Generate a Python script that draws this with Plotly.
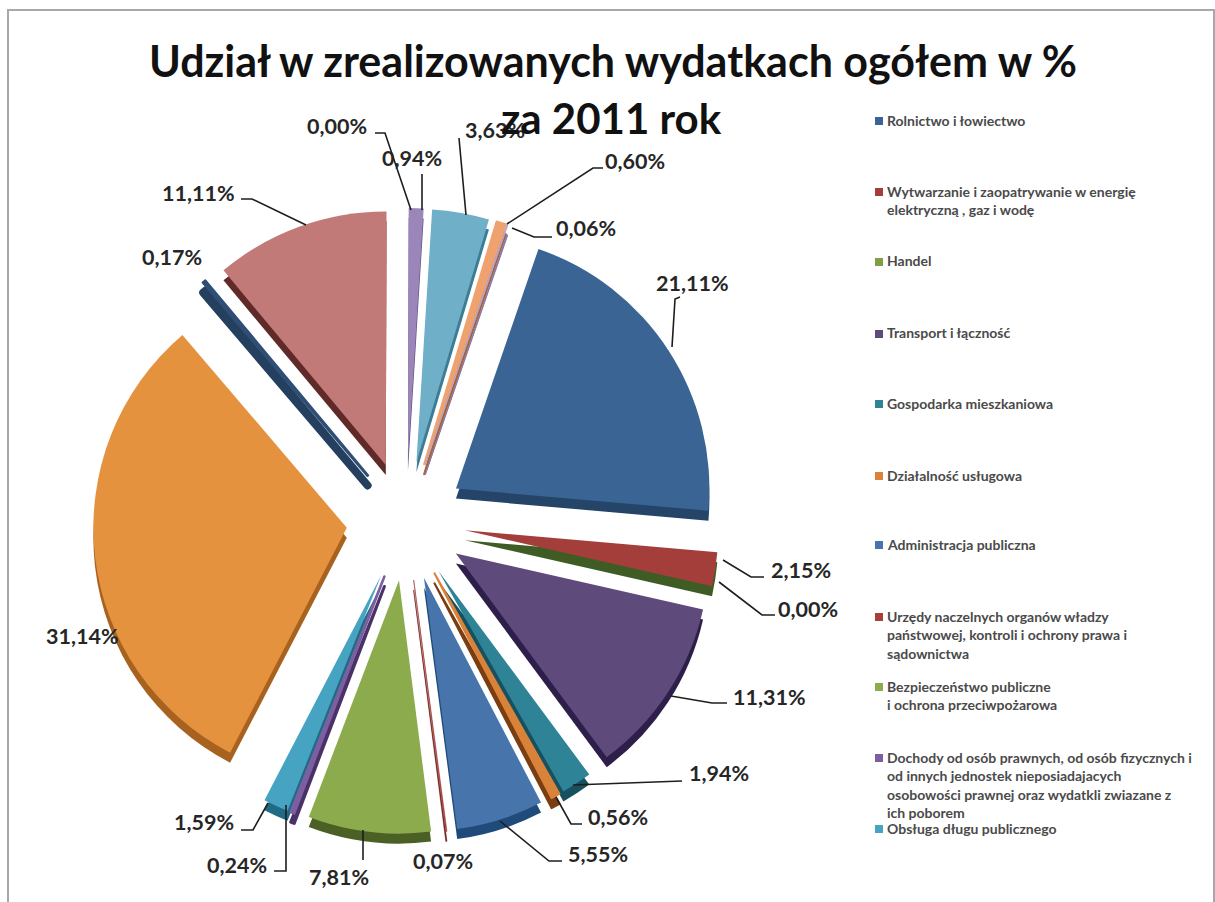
import plotly.graph_objects as go

W, H = 1215, 902

values = [21.11, 2.15, 0.00, 11.31, 1.94, 0.56, 5.55, 0.07, 7.81, 0.24, 1.59,
          31.14, 0.17, 11.11, 0.00, 0.94, 3.63, 0.60, 0.06]
value_labels = ["21,11%", "2,15%", "0,00%", "11,31%", "1,94%", "0,56%", "5,55%", "0,07%",
                "7,81%", "0,24%", "1,59%", "31,14%", "0,17%", "11,11%", "0,00%", "0,94%",
                "3,63%", "0,60%", "0,06%"]
face_colors = ["#3A6494", "#A43E3B", "#7F9E45", "#5F4A7C", "#2E8397", "#D9823A", "#4674AB",
               "#A5403C", "#8CAB4C", "#7C5FA0", "#47A3C2", "#E5923F", "#2F4E75", "#C27A78",
               "#8AA64F", "#9A86B8", "#70AFC8", "#EFA26E", "#B7A6D0"]
side_colors = ["#254568", "#3F5C24", "#3F5C24", "#2D1F4A", "#17505F", "#7A3E10", "#1F4A7A",
               "#6B1F1B", "#4A6024", "#4A3268", "#1F6A85", "#A8621F", "#25405F", "#5F2A28",
               "#4A6024", "#5E4A80", "#3C7D96", "#A86530", "#8A78A8"]
face_outline = [0, 0, 0, 0, 0, 2, 0, 0.6, 0, 2.5, 0, 0, 3, 0, 0, 0, 0, 2, 1]
side_outline = [0, 0, 0, 0, 0, 2, 0, 0.6, 0, 3, 0, 0, 8, 0, 0, 0, 0, 2, 1]

legend_names = [
    ["Rolnictwo i łowiectwo"],
    ["Wytwarzanie i zaopatrywanie w energię", "elektryczną , gaz i wodę"],
    ["Handel"],
    ["Transport i łączność"],
    ["Gospodarka mieszkaniowa"],
    ["Działalność usługowa"],
    ["Administracja publiczna"],
    ["Urzędy naczelnych organów władzy", "państwowej, kontroli i ochrony prawa i", "sądownictwa"],
    ["Bezpieczeństwo publiczne", "i ochrona przeciwpożarowa"],
    ["Dochody od osób prawnych, od osób fizycznych i", "od innych jednostek nieposiadajacych",
     "osobowości prawnej oraz wydatkli zwiazane z", "ich poborem"],
    ["Obsługa długu publicznego"],
]
legend_y = [120, 191, 261, 333, 403, 475, 544, 616, 686, 757, 828]
LEGEND_LINE = 18.6

label_pos = [(692, 283), (801, 570), (808, 609), (769, 697), (719, 773), (618, 817), (598, 854),
             (443, 861), (339, 877), (237, 865), (204, 822), (82, 636), (172, 257), (198, 193),
             (337, 126), (412, 158), (495, 130), (635, 161), (586, 228)]

leaders = [
    [(672, 347), (675, 299), (680, 297)],
    [(723, 560), (751, 577), (764, 577)],
    [(719, 582), (762, 615), (775, 615)],
    [(671, 696), (712, 703), (727, 703)],
    [(573, 785), (682, 781)],
    [(556, 797), (571, 824), (582, 824)],
    [(500, 821), (549, 861), (562, 861)],
    [(363, 830), (363, 860)],
    [(286, 805), (286, 871), (274, 871)],
    [(268, 803), (253, 830), (241, 830)],
    [(241, 199), (252, 199), (306, 225)],
    [(375, 133), (385, 133), (411, 210)],
    [(422, 174), (422, 210)],
    [(459, 138), (466, 215)],
    [(603, 168), (593, 168), (507, 224)],
    [(512, 228), (534, 237), (552, 237)],
]

CX, CY, R, PULL, DEPTH, ROT = 406, 521, 313, 0.235, 10, 19
FONT = "Lato"


def fx(x):
    return x / W


def fy(y):
    return 1 - y / H


def pie(cy, colors, outline):
    return go.Pie(
        values=values, sort=False, direction="clockwise", rotation=ROT, pull=PULL,
        textinfo="none", hoverinfo="skip", showlegend=False,
        marker=dict(colors=colors, line=dict(width=outline, color=colors)),
        domain=dict(x=[fx(CX - R), fx(CX + R)], y=[fy(cy + R), fy(cy - R)]),
    )


fig = go.Figure([pie(CY + DEPTH, side_colors, side_outline), pie(CY, face_colors, face_outline)])

shapes = [dict(type="rect", xref="paper", yref="paper", x0=fx(8), x1=fx(1214), y0=fy(10), y1=fy(930),
               line=dict(color="#A8A8A8", width=2), fillcolor="rgba(0,0,0,0)")]
for pts in leaders:
    d = "M" + " L".join(f"{fx(x):.5f},{fy(y):.5f}" for x, y in pts)
    shapes.append(dict(type="path", xref="paper", yref="paper", path=d,
                       line=dict(color="#1E1E1E", width=1.6)))

annotations = []


def text(x, y, s, size, anchor="center", color="#262626", bold=True):
    annotations.append(dict(
        x=fx(x), y=fy(y), xref="paper", yref="paper", text=f"<b>{s}</b>" if bold else s,
        showarrow=False, xanchor=anchor, yanchor="middle",
        font=dict(family=FONT, size=size, color=color), borderpad=0, borderwidth=0))


for (x, y), s in zip(label_pos, value_labels):
    text(x, y, s, 21.5)

for i, (names, y0) in enumerate(zip(legend_names, legend_y)):
    shapes.append(dict(type="rect", xref="paper", yref="paper", x0=fx(875), x1=fx(883),
                       y0=fy(y0 + 5), y1=fy(y0 - 3), line=dict(width=0), fillcolor=face_colors[i]))
    for j, line in enumerate(names):
        text(887, y0 + j * LEGEND_LINE, line, 14, anchor="left", color="#4A4A4A")

text(613, 60, "Udział w zrealizowanych wydatkach ogółem w %", 43, color="#111111")
text(612, 118, "za 2011 rok", 42, color="#111111")

fig.update_layout(width=W, height=H, margin=dict(l=0, r=0, t=0, b=0), paper_bgcolor="white",
                  shapes=shapes, annotations=annotations)
fig.write_html("out.html", config=dict(displayModeBar=False),
               post_script="document.body.style.margin='0';document.body.style.overflow='hidden';")
